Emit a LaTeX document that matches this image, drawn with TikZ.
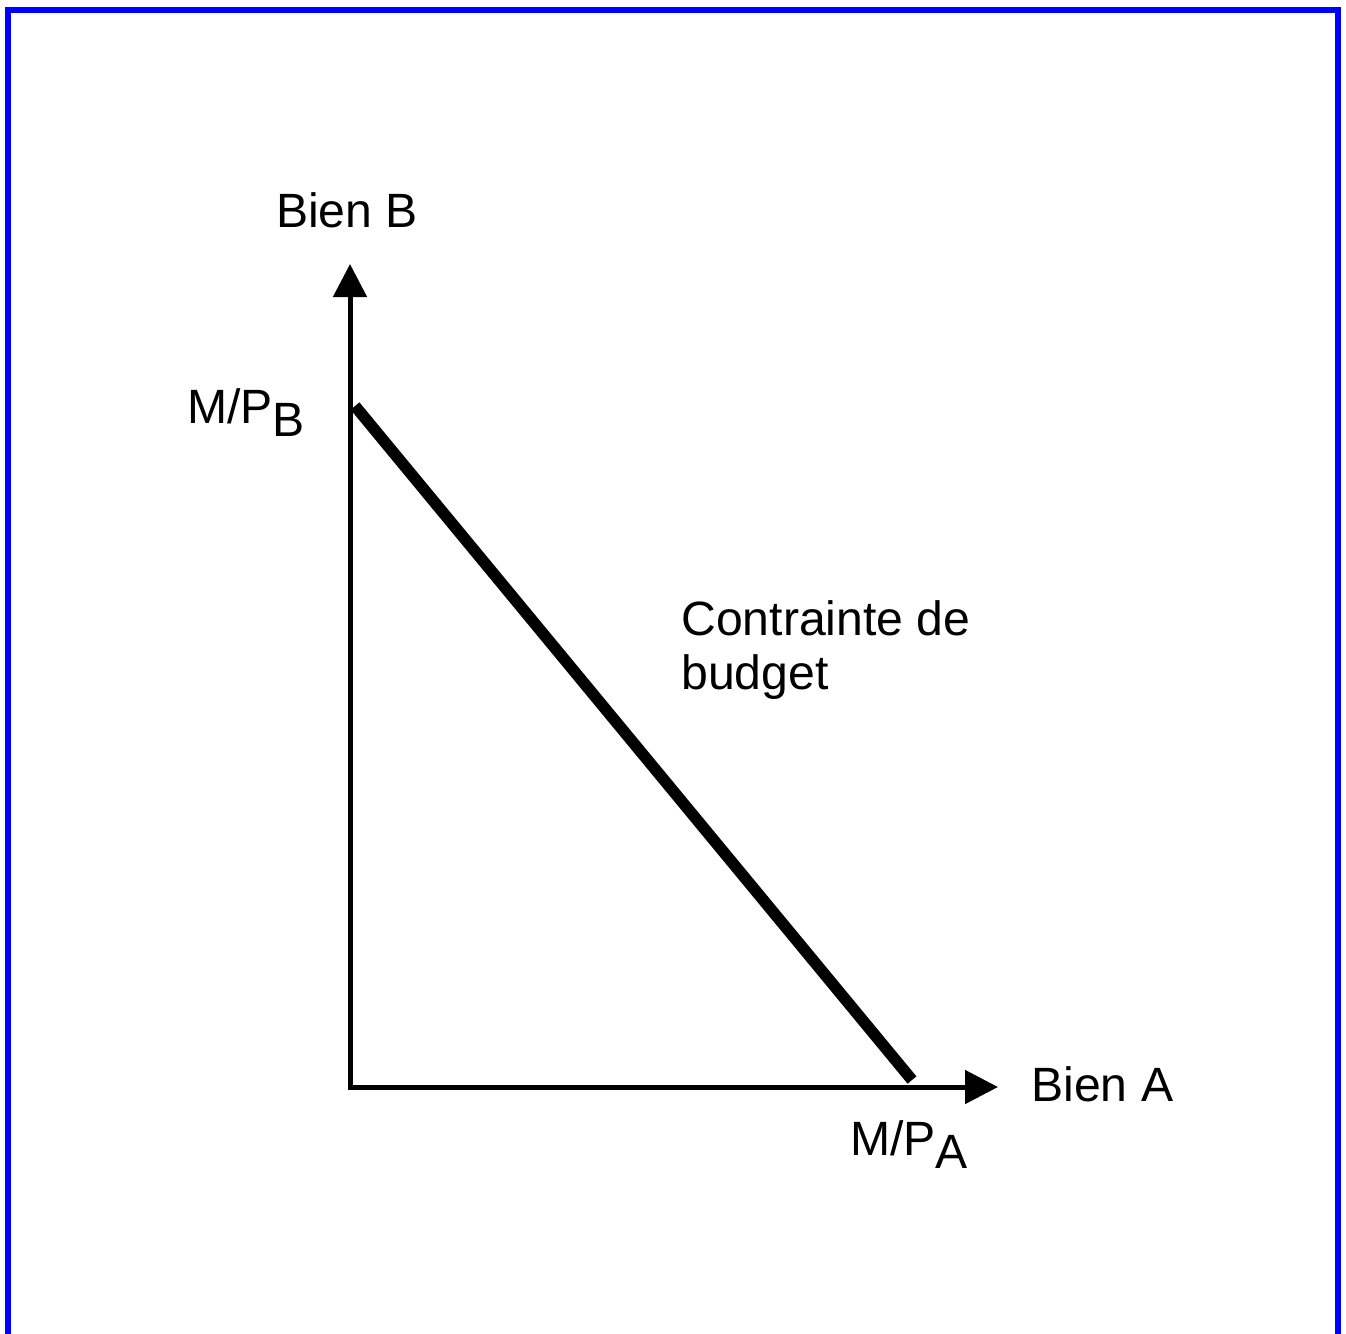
\documentclass[tikz,border=0pt]{standalone}
\usepackage{fontspec}
\setmainfont{Liberation Sans}
\usetikzlibrary{arrows.meta, positioning}

\newcommand{\lowsub}[1]{\raisebox{-0.28em}{#1}}

\begin{document}
\begin{tikzpicture}[x=0.02cm, y=-0.02cm,
    axis/.style={line width=0.1cm, {Triangle[length=0.66cm, width=0.66cm]}-{Triangle[length=0.66cm, width=0.66cm]}},
    budget/.style={line width=0.23cm},
    lbl/.style={font=\fontsize{27.4}{30.7}\selectfont, inner sep=0pt},
    frame/.style={draw=blue, line width=0.12cm}
]
    % Page and frame
    \useasboundingbox (0,0) rectangle (1346,1333);
    \clip (0,0) rectangle (1346,1333);
    \draw[frame] (8,1345) -- (8,10) -- (1338,10) -- (1338,1345);

    % Axes
    \coordinate (O) at (350,1087);
    \coordinate (ytop) at (350,264);
    \coordinate (xend) at (998,1087);
    \draw[axis] (ytop) -- (O) -- (xend);

    % Budget line
    \coordinate (pb) at (355,406);
    \coordinate (pa) at (912,1080);
    \draw[budget] (pb) -- (pa);

    % Labels
    \node[lbl, anchor=base] (bienB) at (347,227) {Bien B};
    \node[lbl, anchor=base west] (bienA) at (1031,1101) {Bien A};
    \node[lbl, anchor=base west] (mpb) at (187,423) {M/P\lowsub{B}};
    \node[lbl, anchor=base west] (mpa) at (850,1155) {M/P\lowsub{A}};
    \node[lbl, anchor=north west, align=left] (contr) at (681,600) {Contrainte de\\budget};
\end{tikzpicture}
\end{document}
